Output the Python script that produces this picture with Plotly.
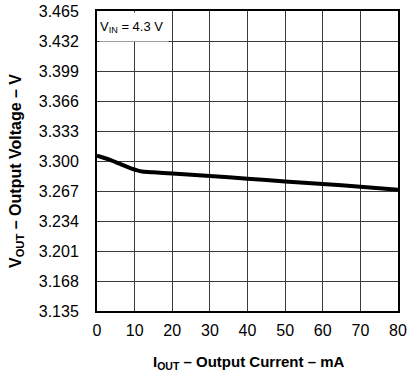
import plotly.graph_objects as go

current_ma = [0, 3, 6, 9, 12, 15, 20, 30, 40, 50, 60, 70, 80]
vout_v = [3.306, 3.302, 3.297, 3.292, 3.2885, 3.2875, 3.2862, 3.2835, 3.2805, 3.2775, 3.2748, 3.2718, 3.2685]
y_ticks = [3.135, 3.168, 3.201, 3.234, 3.267, 3.300, 3.333, 3.366, 3.399, 3.432, 3.465]
x_ticks = [0, 10, 20, 30, 40, 50, 60, 70, 80]

fig = go.Figure()
fig.add_trace(go.Scatter(x=current_ma, y=vout_v, mode="lines",
                         line=dict(color="black", width=4, shape="spline", smoothing=0.6),
                         showlegend=False, cliponaxis=False))

ff = "Liberation Sans, Arial, sans-serif"
fig.update_layout(
    width=407, height=377,
    margin=dict(l=97, r=9, t=11, b=66),
    paper_bgcolor="white", plot_bgcolor="white",
    font=dict(family=ff, size=16, color="black"),
    xaxis=dict(range=[0, 80], tickvals=x_ticks, ticktext=[str(v) for v in x_ticks],
               showgrid=True, gridcolor="#3a3a3a", gridwidth=1,
               showline=True, linecolor="black", linewidth=2, mirror=True,
               zeroline=False, ticks="", ticklen=0, automargin=False,
               ticklabelstandoff=4, tickfont=dict(size=16), ticklabeloverflow="allow"),
    yaxis=dict(range=[3.135, 3.465], tickvals=y_ticks, ticktext=[f"{v:.3f}" for v in y_ticks],
               showgrid=True, gridcolor="#3a3a3a", gridwidth=1,
               showline=True, linecolor="black", linewidth=2, mirror=True,
               zeroline=False, ticks="", ticklen=0, automargin=False,
               ticklabelstandoff=13, tickfont=dict(size=16), ticklabeloverflow="allow"),
    annotations=[
        dict(x=0, y=3.465, xref="x", yref="y", xanchor="left", yanchor="top",
             text="V<sub>IN</sub> = 4.3 V", showarrow=False, align="left",
             bgcolor="white", borderpad=0, width=68, height=28,
             xshift=2, yshift=-1, font=dict(size=13)),
        dict(x=0.5, y=0, xref="paper", yref="paper", xanchor="center", yanchor="middle",
             xshift=1, yshift=-51, showarrow=False,
             text="<b>I<sub>OUT</sub> – Output Current – mA</b>", font=dict(size=15)),
        dict(x=0, y=0.5, xref="paper", yref="paper", xanchor="center", yanchor="middle",
             xshift=-81, yshift=-10, showarrow=False, textangle=-90,
             text="<b>V<sub>OUT</sub> – Output Voltage – V</b>", font=dict(size=16)),
    ],
)
fig.write_html("out.html", config={"displayModeBar": False})

# remove the default page margin so the figure fills the window exactly
with open("out.html", "r", encoding="utf-8") as f:
    html = f.read()
html = html.replace("<body>", '<body style="margin:0;overflow:hidden">', 1)
with open("out.html", "w", encoding="utf-8") as f:
    f.write(html)
